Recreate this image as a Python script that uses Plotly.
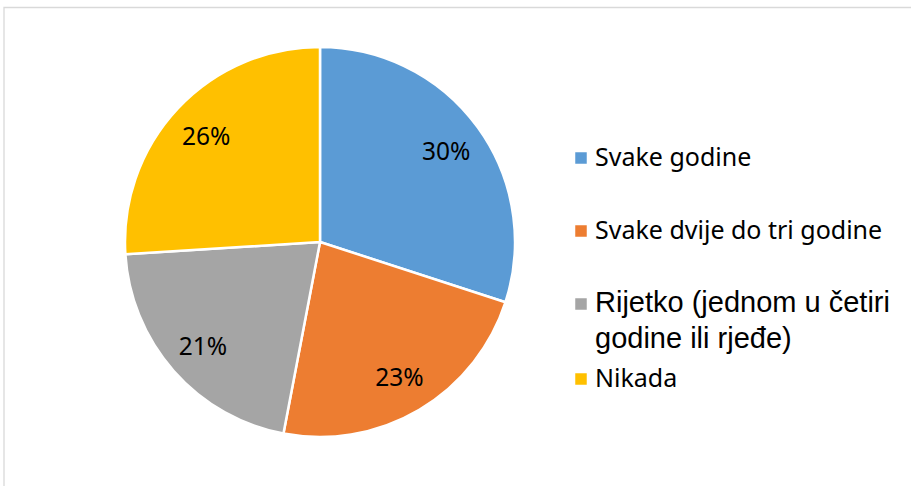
import plotly.graph_objects as go

# ---- data ----
categories = [
    "Svake godine",
    "Svake dvije do tri godine",
    "Rijetko (jednom u četiri<br>godine ili rjeđe)",
    "Nikada",
]
values = [30, 23, 21, 26]
colors = ["#5B9BD5", "#ED7D31", "#A5A5A5", "#FFC000"]

W, H = 911, 486

def px(x):
    return x / W

def py(y):
    return 1 - y / H

# pie geometry (pixels)
cx, cy, r = 320, 242, 195
domain = dict(x=[px(cx - r), px(cx + r)], y=[py(cy + r), py(cy - r)])
plain_labels = [c.replace("<br>", " ") for c in categories]

fig = go.Figure()
# filled slices
fig.add_trace(go.Pie(
    labels=plain_labels,
    values=values,
    sort=False,
    direction="clockwise",
    rotation=0,
    marker=dict(colors=colors, line=dict(color="white", width=2.5)),
    textinfo="none",
    domain=domain,
    showlegend=False,
    hoverinfo="skip",
))
# transparent ring that carries the percentage labels further out
fig.add_trace(go.Pie(
    labels=plain_labels,
    values=values,
    sort=False,
    direction="clockwise",
    rotation=0,
    hole=0.6,
    marker=dict(colors=["rgba(0,0,0,0)"] * len(values), line=dict(width=0)),
    texttemplate="%{percent:.0%}",
    textposition="inside",
    insidetextorientation="horizontal",
    textfont=dict(family="Noto Sans", size=24.5, color="black"),
    domain=domain,
    showlegend=False,
    hoverinfo="label+percent",
))

shapes = [
    # chart frame
    dict(type="rect", xref="paper", yref="paper",
         x0=px(4), x1=1.05, y0=-0.05, y1=py(7.5),
         line=dict(color="#D9D9D9", width=1.3), fillcolor="rgba(0,0,0,0)"),
]
annotations = []

# custom legend
marker_y = [158, 231, 304, 379]
marker_x, msize = 581, 11.5
text_x = 593
fonts = [
    dict(family="Noto Sans", size=25, color="black"),
    dict(family="Noto Sans", size=25, color="black"),
    dict(family="Liberation Sans, Arial", size=29, color="black"),
    dict(family="Noto Sans", size=25, color="black"),
]
for i, (lab, col, my, f) in enumerate(zip(categories, colors, marker_y, fonts)):
    shapes.append(dict(type="rect", xref="paper", yref="paper",
                       x0=px(marker_x - msize / 2), x1=px(marker_x + msize / 2),
                       y0=py(my + msize / 2), y1=py(my - msize / 2),
                       fillcolor=col, line=dict(width=0)))
    lines = lab.split("<br>")
    for j, line in enumerate(lines):
        annotations.append(dict(
            text=line, xref="paper", yref="paper",
            x=px(text_x), y=py(my - 2 + j * 36),
            xanchor="left", yanchor="middle", showarrow=False, font=f,
        ))

fig.update_layout(
    width=W, height=H,
    margin=dict(l=0, r=0, t=0, b=0),
    paper_bgcolor="white",
    plot_bgcolor="white",
    shapes=shapes,
    annotations=annotations,
)

fig.write_html(
    "out.html",
    config={"displayModeBar": False},
    post_script="document.body.style.margin='0';document.body.style.overflow='hidden';",
)
